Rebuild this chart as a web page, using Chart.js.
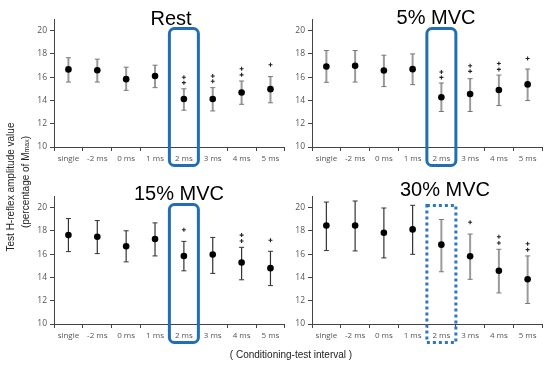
<!DOCTYPE html>
<html>
<head>
<meta charset="utf-8">
<script src="https://cdn.jsdelivr.net/npm/chart.js@4.4.0/dist/chart.umd.min.js"></script>
<style>
  body { margin: 0; width: 554px; height: 368px; background: #fff; position: relative; overflow: hidden;
         font-family: "Liberation Sans", Arial, sans-serif; }
  canvas { position: absolute; }
  .title { position: absolute; font-size: 20px; color: #000; transform: translateX(-50%); white-space: nowrap; line-height: 1; }
  .ylab { position: absolute; font-size: 10px; color: #222; white-space: nowrap;
          transform: translate(-50%, -50%) rotate(-90deg); line-height: 1; }
  .xlab { position: absolute; font-size: 10px; color: #222; white-space: nowrap; transform: translateX(-50%); }
</style>
</head>
<body>
<canvas id="c1" width="290" height="178" style="left:0;top:0"></canvas>
<canvas id="c2" width="274" height="178" style="left:280px;top:0"></canvas>
<canvas id="c3" width="290" height="190" style="left:0;top:178px"></canvas>
<canvas id="c4" width="274" height="190" style="left:280px;top:178px"></canvas>

<div class="title" style="left:171px;top:8px">Rest</div>
<div class="title" style="left:436px;top:7px">5% MVC</div>
<div class="title" style="left:179px;top:183px">15% MVC</div>
<div class="title" style="left:445px;top:179px">30% MVC</div>
<div class="ylab" style="left:11px;top:187px">Test H-reflex amplitude value</div>
<div class="ylab" style="left:26px;top:182px">(percentage of M<span style="font-size:7px">max</span>)</div>
<div class="xlab" style="left:291px;top:349px">( Conditioning-test interval )</div>

<script>
// categories
const intervals = ['single', '-2 ms', '0 ms', '1 ms', '2 ms', '3 ms', '4 ms', '5 ms'];
const yTicks = [10, 12, 14, 16, 18, 20];

// Rest
const restMean = [16.67, 16.6, 15.83, 16.1, 14.13, 14.13, 14.68, 14.97];
const restLo = [15.58, 15.58, 14.87, 15.1, 13.16, 13.1, 13.67, 13.8];
const restHi = [17.67, 17.55, 16.86, 17.03, 15.0, 15.1, 15.67, 16.05];
const restSigA = [null, null, null, null, 16.0, 16.1, 16.73, 17.07];
const restSigB = [null, null, null, null, 15.53, 15.65, 16.2, null];

// 5% MVC
const mvc5Mean = [16.92, 16.98, 16.58, 16.69, 14.27, 14.56, 14.9, 15.38];
const mvc5Lo = [15.56, 15.58, 15.19, 15.36, 13.05, 13.05, 13.56, 13.99];
const mvc5Hi = [18.29, 18.29, 17.89, 18.0, 15.5, 15.87, 16.18, 16.7];
const mvc5SigA = [null, null, null, null, 16.44, 16.98, 17.18, 17.6];
const mvc5SigB = [null, null, null, null, 15.98, 16.5, 16.67, null];

// 15% MVC
const mvc15Mean = [17.64, 17.5, 16.68, 17.3, 15.85, 15.97, 15.28, 14.8];
const mvc15Lo = [16.22, 16.05, 15.34, 15.85, 14.57, 14.35, 13.8, 13.3];
const mvc15Hi = [19.06, 18.89, 18.01, 18.69, 17.1, 17.44, 16.59, 16.25];
const mvc15SigA = [null, null, null, null, 18.1, null, 17.64, 17.2];
const mvc15SigB = [null, null, null, null, null, null, 17.13, null];

// 30% MVC
const mvc30Mean = [18.47, 18.47, 17.84, 18.13, 16.82, 15.82, 14.57, 13.84];
const mvc30Lo = [16.31, 16.28, 15.68, 15.99, 14.49, 13.84, 12.67, 11.76];
const mvc30Hi = [20.48, 20.57, 19.97, 20.2, 18.98, 17.73, 16.42, 15.85];
const mvc30SigA = [null, null, null, null, null, 18.75, 17.5, 16.9];
const mvc30SigB = [null, null, null, null, null, null, 16.96, 16.39];

// error bars drawn under the points
const errorBars = {
  id: 'errorBars',
  beforeDatasetsDraw(chart) {
    const ds = chart.data.datasets[0];
    const meta = chart.getDatasetMeta(0);
    const y = chart.scales.y;
    const ctx = chart.ctx;
    ctx.save();
    ds.errLo.forEach((lo, i) => {
      const x = meta.data[i].x;
      const y1 = y.getPixelForValue(lo);
      const y2 = y.getPixelForValue(ds.errHi[i]);
      const dark = ds.errDark[i];
      ctx.strokeStyle = dark ? '#333' : '#9a9a9a';
      ctx.lineWidth = dark ? 1.2 : 2;
      ctx.beginPath();
      ctx.moveTo(x, y1); ctx.lineTo(x, y2);
      ctx.stroke();
      ctx.lineWidth = 1;
      ctx.strokeStyle = dark ? '#333' : '#777';
      ctx.beginPath();
      ctx.moveTo(x - 2.5, y1); ctx.lineTo(x + 2.5, y1);
      ctx.moveTo(x - 2.5, y2); ctx.lineTo(x + 2.5, y2);
      ctx.stroke();
    });
    ctx.restore();
  }
};

// blue box around the 2 ms column
const highlight = {
  id: 'highlight',
  afterDraw(chart) {
    const o = chart.options.plugins.highlight;
    const x = chart.scales.x.getPixelForValue(4);
    const a = chart.chartArea;
    const ctx = chart.ctx;
    const l = x - 14.5, r = x + 14.5, t = a.top + o.top, b = a.bottom + 18.5;
    ctx.save();
    ctx.strokeStyle = '#1f6fb2';
    ctx.lineWidth = 3;
    if (o.dotted) {
      ctx.setLineDash([3, 3]);
      ctx.strokeStyle = '#2a78c0';
      ctx.strokeRect(l, t, r - l, b - t);
    } else {
      ctx.beginPath();
      ctx.roundRect(l, t, r - l, b - t, 5);
      ctx.stroke();
    }
    ctx.restore();
  }
};

function makePanel(id, mean, lo, hi, sigA, sigB, dark, pad, boxTop, dotted) {
  const sig = {
    type: 'line', showLine: false, pointStyle: 'cross', pointRadius: 2,
    pointBorderColor: '#222', pointBorderWidth: 1.1, pointBackgroundColor: '#222'
  };
  return new Chart(document.getElementById(id), {
    type: 'line',
    data: {
      labels: intervals,
      datasets: [
        { data: mean, errLo: lo, errHi: hi, errDark: dark, showLine: false,
          pointRadius: 3.3, pointBackgroundColor: '#000', pointBorderColor: '#000', pointBorderWidth: 0 },
        Object.assign({ data: sigA }, sig),
        Object.assign({ data: sigB }, sig)
      ]
    },
    options: {
      responsive: false,
      devicePixelRatio: 1,
      animation: false,
      layout: { padding: pad },
      plugins: { legend: { display: false }, tooltip: { enabled: false },
                 highlight: { top: boxTop, dotted: dotted } },
      scales: {
        x: {
          offset: true,
          grid: { offset: true, drawOnChartArea: false, drawTicks: true, tickLength: 4, color: '#444' },
          border: { color: '#444', width: 1 },
          ticks: { color: '#555', font: { size: 8, family: 'Open Sans' }, padding: 3, maxRotation: 0, autoSkip: false },
          afterFit: s => { s.height = 31; }
        },
        y: {
          min: 10, max: 21,
          afterBuildTicks: s => { s.ticks = yTicks.map(v => ({ value: v })); },
          grid: { drawOnChartArea: false, drawTicks: true, tickLength: 4, color: '#444' },
          border: { color: '#444', width: 1 },
          ticks: { color: '#555', font: { size: 8.5, family: 'Open Sans' }, padding: 3 },
          afterFit: s => { s.width = 24; }
        }
      }
    },
    plugins: [errorBars, highlight]
  });
}

const grayAll = [false, false, false, false, false, false, false, false];
const darkAll = [true, true, true, true, true, true, true, true];
const darkFirst = [true, true, true, true, false, false, false, false];

makePanel('c1', restMean, restLo, restHi, restSigA, restSigB, grayAll,
  { left: 30, top: 19, right: 3, bottom: 0 }, 9.5, false);
makePanel('c2', mvc5Mean, mvc5Lo, mvc5Hi, mvc5SigA, mvc5SigB, grayAll,
  { left: 8, top: 19, right: 12, bottom: 0 }, 9.5, false);
makePanel('c3', mvc15Mean, mvc15Lo, mvc15Hi, mvc15SigA, mvc15SigB, darkAll,
  { left: 30, top: 18, right: 3, bottom: 13 }, 8.5, false);
makePanel('c4', mvc30Mean, mvc30Lo, mvc30Hi, mvc30SigA, mvc30SigB, darkFirst,
  { left: 8, top: 18, right: 12, bottom: 13 }, 9.5, true);
</script>
</body>
</html>
